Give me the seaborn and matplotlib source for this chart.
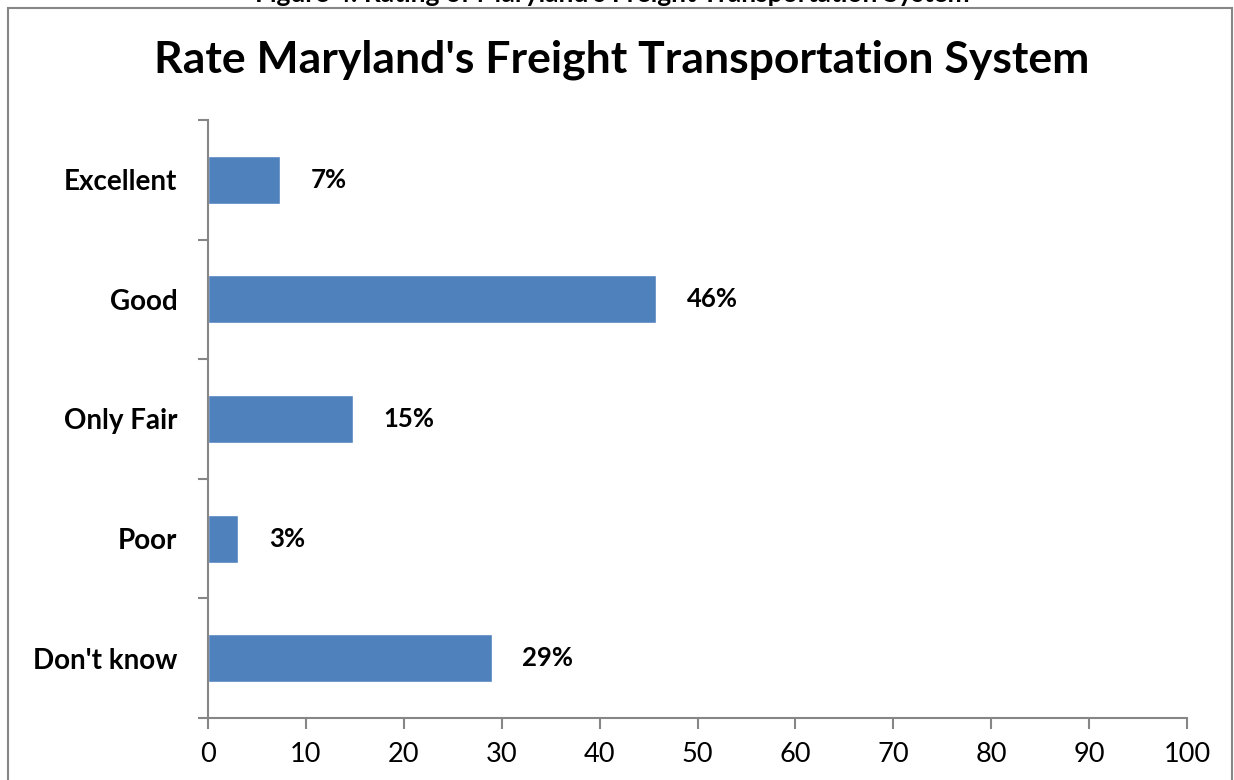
import matplotlib.pyplot as plt
import matplotlib.patches as mpatches
import seaborn as sns
import pandas as pd

# data
categories = ["Excellent", "Good", "Only Fair", "Poor", "Don't know"]
values = [7.4, 45.8, 14.8, 3.1, 29.0]
labels = ["7%", "46%", "15%", "3%", "29%"]
x_ticks = [0, 10, 20, 30, 40, 50, 60, 70, 80, 90, 100]

df = pd.DataFrame({"Rating": categories, "Percent": values})

sns.set_style("white")
plt.rcParams['font.family'] = ['Lato', 'DejaVu Sans']
plt.rcParams['text.color'] = 'black'
plt.rcParams['xtick.color'] = 'black'
plt.rcParams['ytick.color'] = 'black'

fig = plt.figure(figsize=(12.34, 7.8), dpi=100)
ax = fig.add_axes([208 / 1234, 62 / 780, 979 / 1234, 598 / 780])

sns.barplot(data=df, x="Percent", y="Rating", orient="h", color="#4F81BD",
            saturation=1, width=0.4, ax=ax)

ax.set_xlim(0, 100)
ax.set_ylim(len(categories) - 0.5, -0.5)
ax.set_xticks(x_ticks)
ax.set_xlabel("")
ax.set_ylabel("")

# category ticks sit between bars, labels at bar centres
ax.set_yticks([i - 0.5 for i in range(len(categories) + 1)], minor=False)
ax.set_yticklabels([])
ax.set_yticks(range(len(categories)), minor=True)
ax.set_yticklabels(categories, minor=True, fontsize=20, fontweight="bold")
ax.tick_params(axis="y", which="minor", left=False, length=0, pad=22)
ax.tick_params(axis="y", which="major", left=True, length=7, width=1.5,
               color="#868686", direction="out")
ax.tick_params(axis="x", bottom=True, length=8, width=1.5, color="#868686",
               labelcolor="black", direction="out", labelsize=19.5, pad=9)

for s in ["top", "right"]:
    ax.spines[s].set_visible(False)
for s in ["left", "bottom"]:
    ax.spines[s].set_color("#868686")
    ax.spines[s].set_linewidth(1.5)

for i, (v, lab) in enumerate(zip(values, labels)):
    ax.annotate(lab, xy=(v, i), xytext=(22, 0), textcoords="offset points",
                va="center", ha="left", fontsize=18.5, fontweight="bold")

fig.text(622 / 1234, 1 - 60 / 780, "Rate Maryland's Freight Transportation System",
         ha="center", va="center", fontsize=32, fontweight="bold")

# caption of the page, cut off at the top edge
fig.text(612 / 1234, 1 - 2 / 780, "Figure 4: Rating of Maryland's Freight Transportation System",
         ha="center", va="baseline", fontsize=19, fontweight="bold")

# outer chart frame
fig.patches.append(mpatches.Rectangle((8 / 1234, -0.1), 1224 / 1234, 1.1 - 8 / 780,
                                      transform=fig.transFigure, fill=False,
                                      edgecolor="#868686", linewidth=1.5))

fig.savefig("out.png", dpi=100)
